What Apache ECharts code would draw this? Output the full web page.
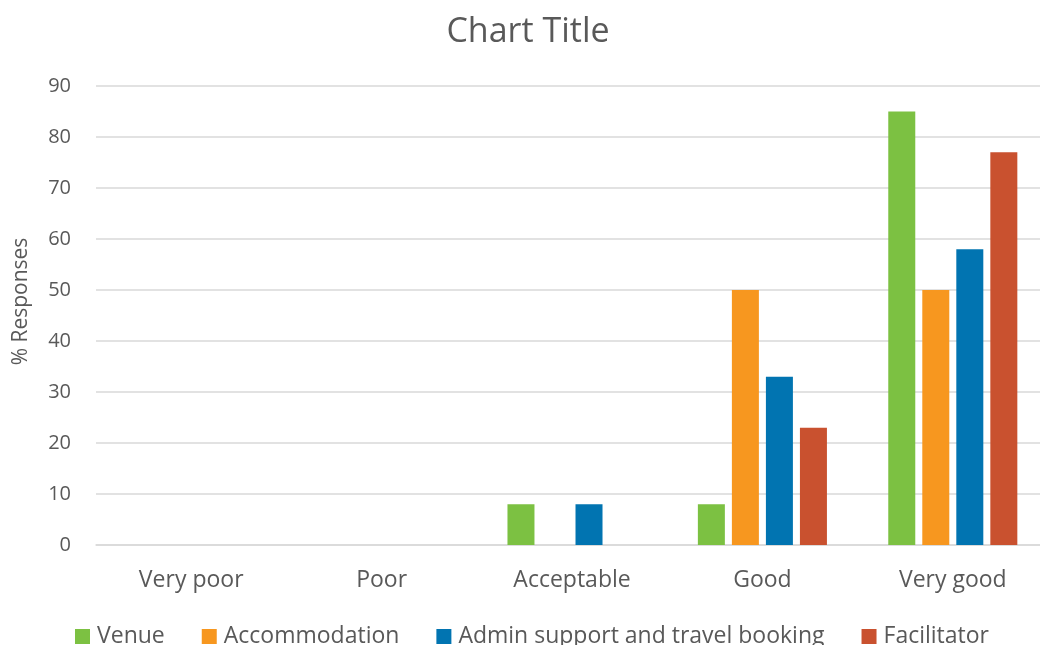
<!DOCTYPE html>
<html>
<head>
<meta charset="utf-8">
<script src="https://cdn.jsdelivr.net/npm/echarts@6/dist/echarts.min.js"></script>
<style>
  html, body { margin: 0; padding: 0; background: #fff; overflow: hidden; }
  #chart { width: 1040px; height: 645px; }
</style>
</head>
<body>
<div id="chart"></div>
<script>
// Survey ratings, percentage of responses per area
const categories = ['Very poor', 'Poor', 'Acceptable', 'Good', 'Very good'];
const venue = [0, 0, 8, 8, 85];
const accommodation = [0, 0, 0, 50, 50];
const adminSupport = [0, 0, 8, 33, 58];
const facilitator = [0, 0, 0, 23, 77];
const seriesNames = ['Venue', 'Accommodation', 'Admin support and travel booking', 'Facilitator'];
const seriesColors = ['#7cc142', '#f7971f', '#0174b1', '#c9512f'];
const yTicks = { min: 0, max: 90, interval: 10 };

const FONT = '"Open Sans", "Noto Sans", sans-serif';
const TEXT = '#595959';

const seriesData = [venue, accommodation, adminSupport, facilitator];

const chart = echarts.init(document.getElementById('chart'), null, { renderer: 'canvas' });
chart.setOption({
  animation: false,
  textStyle: { fontFamily: FONT },
  title: {
    text: 'Chart Title',
    left: 523, top: 10, textAlign: 'center',
    textStyle: { fontFamily: FONT, fontSize: 34, fontWeight: 'normal', color: TEXT }
  },
  legend: {
    left: 70, top: 620,
    itemWidth: 15, itemHeight: 15, itemGap: 37,
    icon: 'rect',
    textStyle: { fontFamily: FONT, fontSize: 23, color: TEXT, padding: [0, 0, 0, 2] },
    data: seriesNames
  },
  // the plot runs slightly past the right edge of the canvas
  grid: { left: 96, top: 86, width: 952, height: 459, containLabel: false, outerBoundsMode: 'none' },
  xAxis: {
    type: 'category',
    data: categories,
    axisLine: { show: true, lineStyle: { color: '#d9d9d9', width: 1.5 } },
    axisTick: { show: false },
    axisLabel: { fontFamily: FONT, fontSize: 23, color: TEXT, margin: 24 }
  },
  yAxis: {
    type: 'value',
    min: yTicks.min, max: yTicks.max, interval: yTicks.interval,
    name: '% Responses',
    nameLocation: 'middle',
    nameGap: 64,
    nameTextStyle: { fontFamily: FONT, fontSize: 21, color: TEXT, padding: [0, 0, 0, 28] },
    axisLine: { show: false },
    axisTick: { show: false },
    axisLabel: { fontFamily: FONT, fontSize: 20, color: TEXT, margin: 25 },
    splitLine: { lineStyle: { color: '#d9d9d9', width: 1.5 } }
  },
  series: seriesNames.map((name, i) => ({
    name,
    type: 'bar',
    data: seriesData[i],
    barWidth: 27,
    barGap: '26%',
    itemStyle: { color: seriesColors[i], borderWidth: 0 }
  }))
});
</script>
</body>
</html>
